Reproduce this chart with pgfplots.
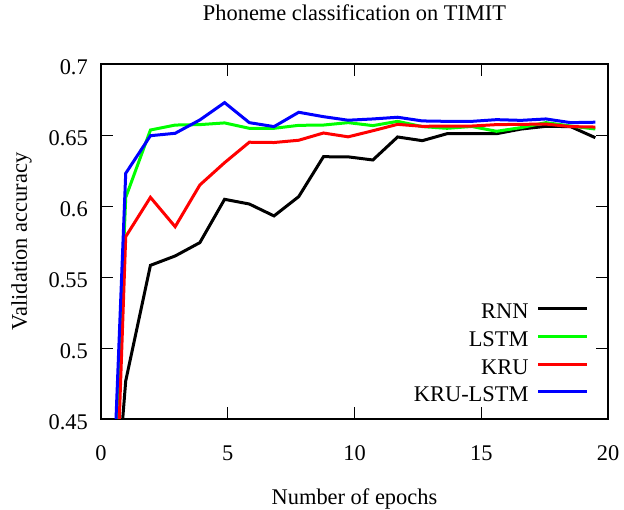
\documentclass[border=0pt]{standalone}
\usepackage{fontspec}
\setmainfont{Liberation Serif}
\usepackage{pgfplots}
\pgfplotsset{compat=1.18}
\usepackage{pgfplotstable}

\pgfplotstableread{
x      rnn     lstm    kru     krulstm
0      0.257   0.18    0.083   0.183
0.975  0.4768  0.606   0.5784  0.623
1.95   0.5582  0.6535  0.6061  0.6495
2.925  0.5648  0.6570  0.5854  0.6512
3.9    0.5742  0.6573  0.6148  0.6606
4.875  0.6047  0.6585  0.6305  0.6728
5.85   0.6014  0.6547  0.6449  0.6587
6.825  0.5930  0.6547  0.6447  0.6559
7.8    0.6066  0.6568  0.6463  0.6660
8.775  0.6347  0.6570  0.6514  0.6629
9.75   0.6346  0.6587  0.6487  0.6604
10.725 0.6324  0.6566  0.6530  0.6613
11.7   0.6486  0.6596  0.6575  0.6625
12.675 0.6460  0.6559  0.6561  0.6599
13.65  0.6509  0.6547  0.6563  0.6596
14.625 0.6509  0.6560  0.6563  0.6596
15.6   0.6509  0.6526  0.6573  0.6608
16.575 0.6542  0.6552  0.6575  0.6603
17.55  0.6561  0.6587  0.6577  0.6613
18.525 0.6559  0.6563  0.6559  0.6587
19.5   0.6481  0.6542  0.6556  0.6590
}\data

\definecolor{gpgreen}{RGB}{0,255,0}
\definecolor{gpred}{RGB}{255,0,0}
\definecolor{gpblue}{RGB}{0,0,255}

\begin{document}
\fontsize{22.5}{27}\selectfont
\begin{tikzpicture}
\begin{axis}[
  scale only axis,
  width=507bp, height=355bp,
  xmin=0, xmax=20, ymin=0.45, ymax=0.7,
  xtick={0,5,10,15,20},
  xticklabels={0,5,10,15,20},
  ytick={0.45,0.5,0.55,0.6,0.65,0.7},
  yticklabels={0.45,0.5,0.55,0.6,0.65,0.7},
  tick align=inside,
  major tick length=12bp,
  axis line style={line width=1.2bp},
  every tick/.style={black, line width=0.9bp},
  x tick label style={inner sep=0pt, anchor=base, yshift=-42bp},
  y tick label style={inner sep=0pt, anchor=base east, xshift=-13bp, yshift=-11bp},
  title={Phoneme classification on TIMIT},
  title style={at={(axis description cs:0.5,1)}, anchor=base, inner sep=0pt, yshift=38bp},
  xlabel={Number of epochs},
  xlabel style={at={(axis description cs:0.5,0)}, anchor=base, inner sep=0pt, yshift=-86bp},
  ylabel={Validation accuracy},
  ylabel style={at={(axis description cs:-0.146,0.5)}, anchor=base, inner sep=0pt, rotate=0},
  legend plot pos=right,
  legend cell align=right,
  legend style={draw=none, fill=none, inner sep=0pt, at={(axis description cs:0.962,0.048)}, anchor=south east,
    row sep=11.6bp, column sep=8bp,
    nodes={inner sep=0pt, text height=16bp, text depth=0bp}},
  legend image code/.code={\draw[#1] (0bp,2bp) -- (49bp,2bp);},
  every axis plot/.append style={line width=3bp},
]
\addplot[black, no marks] table[x=x, y=rnn] {\data};
\addlegendentry{RNN}
\addplot[gpgreen, no marks] table[x=x, y=lstm] {\data};
\addlegendentry{LSTM}
\addplot[gpred, no marks] table[x=x, y=kru] {\data};
\addlegendentry{KRU}
\addplot[gpblue, no marks] table[x=x, y=krulstm] {\data};
\addlegendentry{KRU-LSTM}
\end{axis}
\pgfresetboundingbox
\path[use as bounding box] (-101bp,-91bp) rectangle (523bp,419bp);
\end{tikzpicture}
\end{document}
